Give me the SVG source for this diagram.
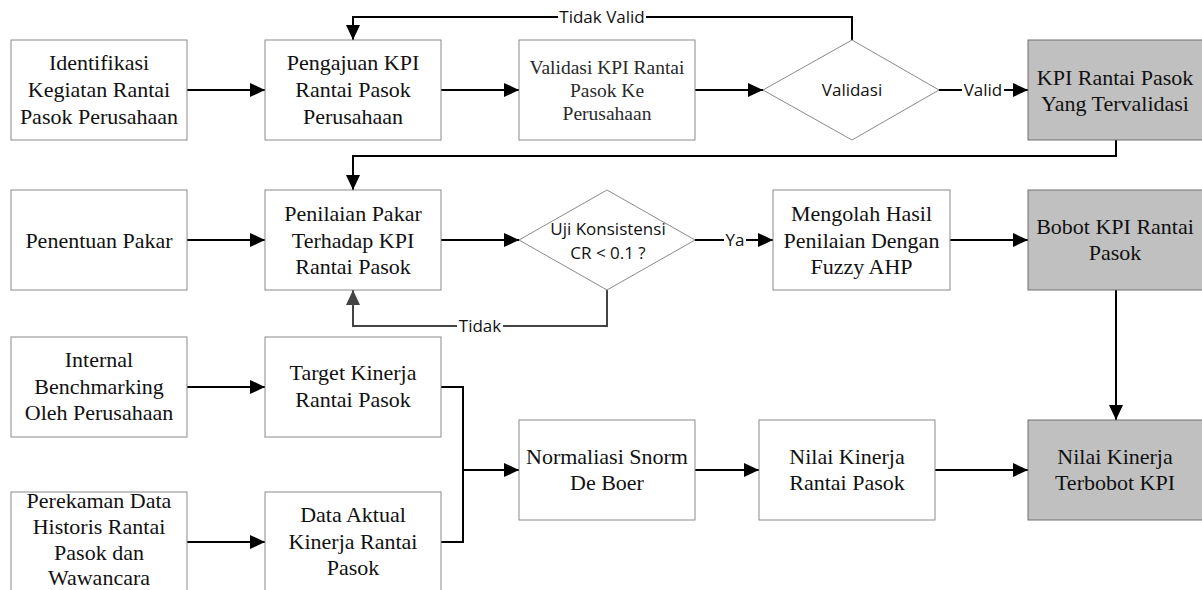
<svg xmlns="http://www.w3.org/2000/svg" width="1202" height="590" viewBox="0 0 1202 590">
<style>
.box{fill:#fff;stroke:#8a8a8a;stroke-width:1}
.hl{fill:#c0c0c0;stroke:#6e6e6e;stroke-width:1}
.dia{fill:#fff;stroke:#8a8a8a;stroke-width:1}
.t{font-family:"Liberation Serif","Times New Roman",serif;font-size:22px;fill:#111;text-anchor:middle}
.ts{font-family:"Liberation Serif","Times New Roman",serif;font-size:19.5px;fill:#2a2a2a;text-anchor:middle}
.s{font-family:"Open Sans","Liberation Sans",sans-serif;font-size:17px;fill:#111;text-anchor:middle}
.c{fill:none;stroke:#000;stroke-width:2}
.cg{fill:none;stroke:#444;stroke-width:2}
.lb{fill:#fff}
</style>
<defs>
<marker id="ah" markerUnits="userSpaceOnUse" markerWidth="16" markerHeight="14" refX="15" refY="7" orient="auto"><path d="M0,0 L15,7 L0,14 z" fill="#000"/></marker>
<marker id="ahg" markerUnits="userSpaceOnUse" markerWidth="16" markerHeight="14" refX="15" refY="7" orient="auto"><path d="M0,0 L15,7 L0,14 z" fill="#444"/></marker>
</defs>
<rect width="1202" height="590" fill="#fff"/>

<g id="connectors">
<path class="c" d="M187,90 H265" marker-end="url(#ah)"/>
<path class="c" d="M441,90 H519" marker-end="url(#ah)"/>
<path class="c" d="M695,90 H763" marker-end="url(#ah)"/>
<path class="c" d="M852,40 V17 H353 V40" marker-end="url(#ah)"/>
<rect class="lb" x="558" y="8" width="88" height="18"/>
<text class="s" x="602" y="23">Tidak Valid</text>
<path class="c" d="M939,90 H1028" marker-end="url(#ah)"/>
<rect class="lb" x="962" y="81" width="42" height="18"/>
<text class="s" x="983" y="96">Valid</text>
<path class="c" d="M1116,140 V156 H353 V190" marker-end="url(#ah)"/>
<path class="c" d="M187,240 H265" marker-end="url(#ah)"/>
<path class="c" d="M441,240 H519" marker-end="url(#ah)"/>
<path class="c" d="M695,240 H773" marker-end="url(#ah)"/>
<rect class="lb" x="724" y="231" width="22" height="18"/>
<text class="s" x="735" y="246">Ya</text>
<path class="c" d="M950,240 H1028" marker-end="url(#ah)"/>
<path class="cg" d="M607,290 V326 H353 V290" marker-end="url(#ahg)"/>
<rect class="lb" x="457" y="317" width="46" height="18"/>
<text class="s" x="480" y="332">Tidak</text>
<path class="c" d="M1116,290 V420" marker-end="url(#ah)"/>
<path class="c" d="M187,387 H265" marker-end="url(#ah)"/>
<path class="c" d="M187,542 H265" marker-end="url(#ah)"/>
<path class="c" d="M441,387 H463 V542 H441"/>
<path class="c" d="M463,470 H519" marker-end="url(#ah)"/>
<path class="c" d="M695,470 H759" marker-end="url(#ah)"/>
<path class="c" d="M935,470 H1028" marker-end="url(#ah)"/>
</g>

<g id="n1"><rect class="box" x="11" y="40" width="176" height="100"/>
<text class="t"><tspan x="99" y="70">Identifikasi</tspan><tspan x="99" y="97">Kegiatan Rantai</tspan><tspan x="99" y="124">Pasok Perusahaan</tspan></text></g>
<g id="n2"><rect class="box" x="265" y="40" width="176" height="100"/>
<text class="t"><tspan x="353" y="70">Pengajuan KPI</tspan><tspan x="353" y="97">Rantai Pasok</tspan><tspan x="353" y="124">Perusahaan</tspan></text></g>
<g id="n3"><rect class="box" x="519" y="40" width="176" height="100"/>
<text class="ts"><tspan x="607" y="73.5">Validasi KPI Rantai</tspan><tspan x="607" y="96.5">Pasok Ke</tspan><tspan x="607" y="119.5">Perusahaan</tspan></text></g>
<g id="d1"><polygon class="dia" points="763,90 852,40 939,90 852,140"/>
<text class="s" x="852" y="96">Validasi</text></g>
<g id="n4"><rect class="hl" x="1028" y="40" width="175" height="100"/>
<text class="t"><tspan x="1115" y="85">KPI Rantai Pasok</tspan><tspan x="1115" y="111">Yang Tervalidasi</tspan></text></g>

<g id="n5"><rect class="box" x="11" y="190" width="176" height="100"/>
<text class="t" x="99" y="248">Penentuan Pakar</text></g>
<g id="n6"><rect class="box" x="265" y="190" width="176" height="100"/>
<text class="t"><tspan x="353" y="221">Penilaian Pakar</tspan><tspan x="353" y="247.5">Terhadap KPI</tspan><tspan x="353" y="274">Rantai Pasok</tspan></text></g>
<g id="d2"><polygon class="dia" points="519,240 607,190 695,240 607,290"/>
<text class="s"><tspan x="608" y="235">Uji Konsistensi</tspan><tspan x="608" y="259">CR &lt; 0.1 ?</tspan></text></g>
<g id="n7"><rect class="box" x="773" y="190" width="177" height="100"/>
<text class="t"><tspan x="861.5" y="221">Mengolah Hasil</tspan><tspan x="861.5" y="247.5">Penilaian Dengan</tspan><tspan x="861.5" y="274">Fuzzy AHP</tspan></text></g>
<g id="n8"><rect class="hl" x="1028" y="190" width="175" height="100"/>
<text class="t"><tspan x="1115" y="234">Bobot KPI Rantai</tspan><tspan x="1115" y="260">Pasok</tspan></text></g>

<g id="n9"><rect class="box" x="11" y="337" width="176" height="100"/>
<text class="t"><tspan x="99" y="367">Internal</tspan><tspan x="99" y="394">Benchmarking</tspan><tspan x="99" y="420">Oleh Perusahaan</tspan></text></g>
<g id="n10"><rect class="box" x="265" y="337" width="176" height="100"/>
<text class="t"><tspan x="353" y="380">Target Kinerja</tspan><tspan x="353" y="407">Rantai Pasok</tspan></text></g>
<g id="n11"><rect class="box" x="11" y="492" width="176" height="110"/>
<text class="t"><tspan x="99" y="508">Perekaman Data</tspan><tspan x="99" y="534">Historis Rantai</tspan><tspan x="99" y="560">Pasok dan</tspan><tspan x="99" y="585">Wawancara</tspan></text></g>
<g id="n12"><rect class="box" x="265" y="492" width="176" height="110"/>
<text class="t"><tspan x="353" y="522">Data Aktual</tspan><tspan x="353" y="549">Kinerja Rantai</tspan><tspan x="353" y="575">Pasok</tspan></text></g>
<g id="n13"><rect class="box" x="519" y="420" width="176" height="100"/>
<text class="t"><tspan x="607" y="464">Normaliasi Snorm</tspan><tspan x="607" y="490">De Boer</tspan></text></g>
<g id="n14"><rect class="box" x="759" y="420" width="176" height="100"/>
<text class="t"><tspan x="847" y="464">Nilai Kinerja</tspan><tspan x="847" y="490">Rantai Pasok</tspan></text></g>
<g id="n15"><rect class="hl" x="1028" y="420" width="175" height="100"/>
<text class="t"><tspan x="1115" y="464">Nilai Kinerja</tspan><tspan x="1115" y="490">Terbobot KPI</tspan></text></g>
</svg>
